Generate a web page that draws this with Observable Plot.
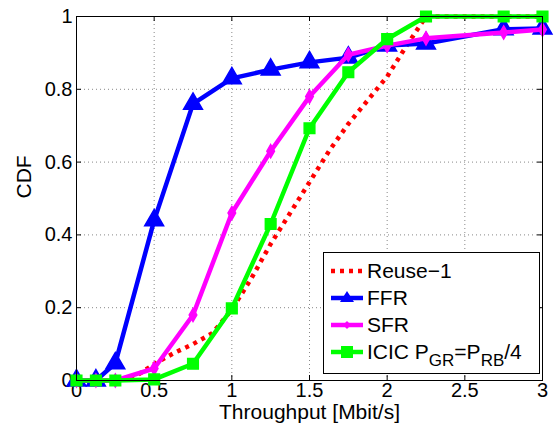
<!DOCTYPE html>
<html><head><meta charset="utf-8">
<script src="https://cdn.jsdelivr.net/npm/d3@7"></script>
<script src="https://cdn.jsdelivr.net/npm/@observablehq/plot@0.6"></script>
<style>
body{margin:0;background:#fff;font-family:"Liberation Sans",Arial,sans-serif;}
#wrap{position:relative;width:557px;height:433px;}
#legend{position:absolute;left:323px;top:252px;width:217px;height:122px;border:1px solid #000;background:#fff;font-size:21px;box-sizing:border-box;}
.row{position:absolute;left:0;height:26px;display:flex;align-items:center;white-space:nowrap;}
.row svg{margin-left:7px;margin-right:4px;}
sub{font-size:17px;vertical-align:-7px;line-height:0;}
</style></head>
<body><div id="wrap"><div id="chart"></div><div id="legend"></div></div>
<script>
const xs = [0, 0.125, 0.25, 0.5, 0.75, 1, 1.25, 1.5, 1.75, 2, 2.25, 2.75, 3];
const ffr  = [0, 0, 0.047, 0.44, 0.76, 0.83, 0.854, 0.874, 0.887, 0.92, 0.926, 0.965, 0.967];
const sfr  = [0, 0, 0, 0.033, 0.18, 0.46, 0.63, 0.78, 0.895, 0.92, 0.94, 0.956, 0.964];
const icic = [0, 0, 0, 0.003, 0.046, 0.198, 0.43, 0.693, 0.847, 0.938, 1.0, 1.0, 1.0];
const reuseX = [0, 0.25, 0.375, 0.5, 0.625, 0.75, 0.875, 1, 1.125, 1.25, 1.375, 1.5, 1.625, 1.75, 1.875, 2, 2.125, 2.25, 2.5, 2.75, 3];
const reuse  = [0, 0, 0.01, 0.045, 0.075, 0.1, 0.13, 0.195, 0.28, 0.375, 0.46, 0.545, 0.63, 0.705, 0.77, 0.835, 0.92, 1.0, 1.0, 1.0, 1.0];
const xTicks = [0, 0.5, 1, 1.5, 2, 2.5, 3];
const yTicks = [0, 0.2, 0.4, 0.6, 0.8, 1];
const names = ["Reuse\u22121", "FFR", "SFR", "ICIC"];
const colors = ["#ff0000", "#0000ff", "#ff00ff", "#00ff00"];

const mk = (arr, xv) => arr.map((v, i) => ({x: xv[i], y: v}));
const W = 557, H = 433, mL = 76, mR = 15, mT = 16, mB = 53;
const innerH = H - mT - mB, innerW = W - mL - mR;
const fmt = d => d === 0 ? "0" : String(d);
const FS = 21, TFS = 20;

const chart = Plot.plot({
  width: W, height: H,
  marginLeft: mL, marginRight: mR, marginTop: mT, marginBottom: mB,
  style: {fontFamily: "Liberation Sans, Arial, sans-serif", fontSize: FS + "px", background: "#fff", color: "#000"},
  x: {domain: [0, 3], axis: null},
  y: {domain: [0, 1], axis: null},
  marks: [
    Plot.gridX(xTicks, {stroke: "#888", strokeOpacity: 1, strokeDasharray: "1,3", strokeWidth: 1}),
    Plot.gridY(yTicks, {stroke: "#888", strokeOpacity: 1, strokeDasharray: "1,3", strokeWidth: 1}),
    Plot.tickX(xTicks, {x: d => d, insetTop: innerH - 5, stroke: "#000"}),
    Plot.tickX(xTicks, {x: d => d, insetBottom: innerH - 5, stroke: "#000"}),
    Plot.tickY(yTicks, {y: d => d, insetRight: innerW - 5, stroke: "#000"}),
    Plot.tickY(yTicks, {y: d => d, insetLeft: innerW - 5, stroke: "#000"}),
    Plot.text(xTicks, {x: d => d, text: fmt, frameAnchor: "bottom", dy: 16, fontSize: TFS, fill: "#000"}),
    Plot.text(yTicks, {y: d => d, text: fmt, frameAnchor: "left", dx: -4, textAnchor: "end", fontSize: TFS, fill: "#000"}),
    Plot.text(["Throughput [Mbit/s]"], {frameAnchor: "bottom", dy: 38, fontSize: FS, fill: "#000"}),
    Plot.text(["CDF"], {frameAnchor: "left", dx: -52, rotate: -90, fontSize: FS, fill: "#000"}),
    Plot.line(mk(reuse, reuseX), {x: "x", y: "y", stroke: colors[0], strokeWidth: 4.5, strokeDasharray: "4,5", strokeLinecap: "butt"}),
    Plot.line(mk(ffr, xs), {x: "x", y: "y", stroke: colors[1], strokeWidth: 4.5}),
    Plot.dot(mk(ffr, xs), {x: "x", y: "y", symbol: "triangle", r: 7, fill: colors[1], stroke: colors[1]}),
    Plot.line(mk(sfr, xs), {x: "x", y: "y", stroke: colors[2], strokeWidth: 4.5}),
    Plot.dot(mk(sfr, xs), {x: "x", y: "y", symbol: "diamond", r: 4, fill: colors[2], stroke: colors[2]}),
    Plot.line(mk(icic, xs), {x: "x", y: "y", stroke: colors[3], strokeWidth: 4.5}),
    Plot.dot(mk(icic, xs), {x: "x", y: "y", symbol: "square", r: 6, fill: colors[3], stroke: colors[3]}),
    Plot.frame({stroke: "#000", strokeWidth: 1})
  ]
});
document.getElementById("chart").append(chart);

const leg = document.getElementById("legend");
const labelsHtml = [names[0], names[1], names[2], "ICIC P<sub>GR</sub>=P<sub>RB</sub>/4"];
const symbols = ["none", "tri", "dia", "sq"];
labelsHtml.forEach((lab, i) => {
  const row = document.createElement("div");
  row.className = "row";
  row.style.top = (5 + i * 27) + "px";
  const c = colors[i];
  let sym = "";
  if (symbols[i] === "tri") sym = `<path d="M16,6 L23,17 L9,17 Z" fill="${c}"/>`;
  if (symbols[i] === "dia") sym = `<path d="M16,9 L20,13 L16,17 L12,13 Z" fill="${c}"/>`;
  if (symbols[i] === "sq") sym = `<rect x="10" y="7" width="12" height="12" fill="${c}"/>`;
  const dash = i === 0 ? `stroke-dasharray="4,5"` : "";
  row.innerHTML = `<svg width="32" height="26"><line x1="0" x2="32" y1="13" y2="13" stroke="${c}" stroke-width="4.5" ${dash}/>${sym}</svg><span>${lab}</span>`;
  leg.append(row);
});
</script></body></html>
